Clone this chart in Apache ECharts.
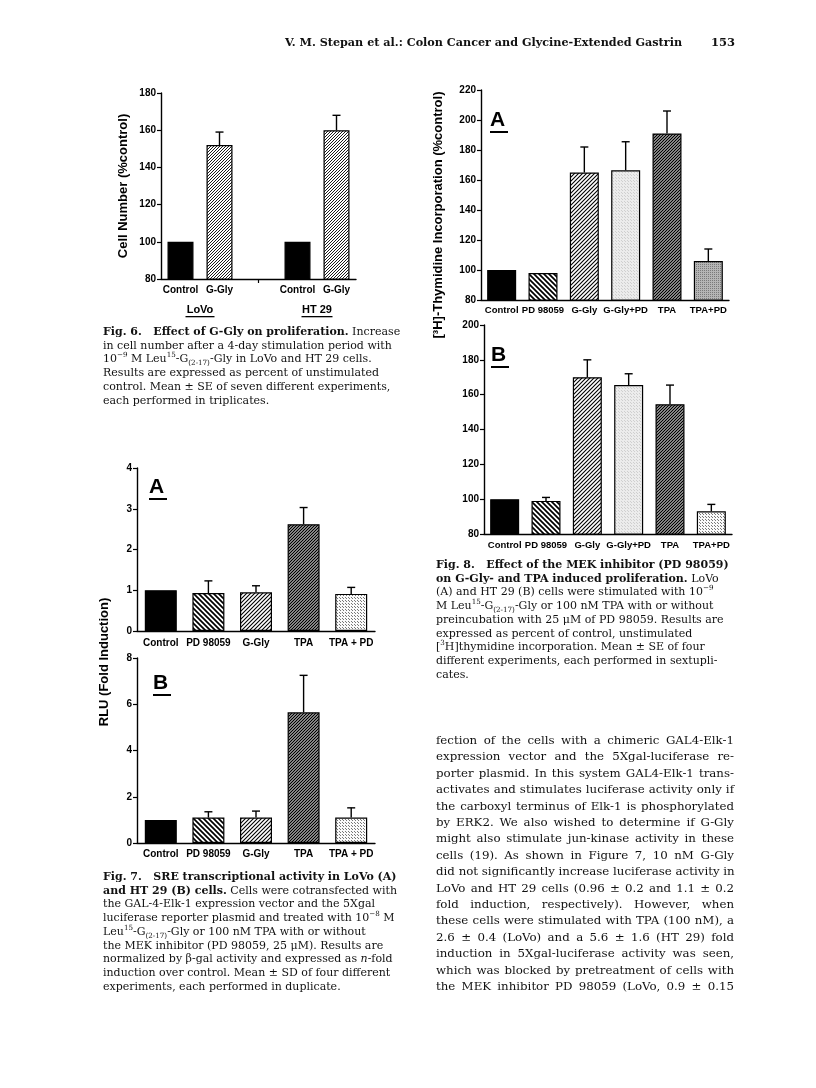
<!DOCTYPE html>
<html>
<head>
<meta charset="utf-8">
<script src="https://cdn.jsdelivr.net/npm/echarts@6/dist/echarts.min.js"></script>
<style>
  html, body { margin: 0; padding: 0; background: #fff; }
  #page { position: relative; width: 816px; height: 1088px; overflow: hidden; background: #fff; }
  #chart { position: absolute; left: 0; top: 0; width: 816px; height: 1088px; }
  .txt { position: absolute; font-family: "DejaVu Serif", serif; color: #111; white-space: nowrap; }
  .cap { font-size: 11px; line-height: 13.7px; }
  .cap b { font-weight: bold; }
  .body { font-size: 11.8px; line-height: 16.4px; width: 298px; }
  .body div { text-align: justify; text-align-last: justify; white-space: nowrap; width: 298px; }
  sup, sub { font-size: 0.65em; line-height: 0; }
</style>
</head>
<body>
<div id="page">
  <div id="chart"></div>

  <div class="txt" style="left:285px; top:35px; font-size:11.2px; font-weight:bold;">V. M. Stepan et al.: Colon Cancer and Glycine-Extended Gastrin</div>
  <div class="txt" style="left:711px; top:35px; font-size:11.5px; font-weight:bold;">153</div>

  <div class="txt cap" style="left:103px; top:325px;">
    <div><b>Fig. 6.&nbsp;&nbsp; Effect of G-Gly on proliferation.</b> Increase</div>
    <div>in cell number after a 4-day stimulation period with</div>
    <div>10<sup>−9</sup> M Leu<sup>15</sup>-G<sub>(2-17)</sub>-Gly in LoVo and HT 29 cells.</div>
    <div>Results are expressed as percent of unstimulated</div>
    <div>control. Mean ± SE of seven different experiments,</div>
    <div>each performed in triplicates.</div>
  </div>

  <div class="txt cap" style="left:103px; top:870px;">
    <div><b>Fig. 7.&nbsp;&nbsp; SRE transcriptional activity in LoVo (A)</b></div>
    <div><b>and HT 29 (B) cells.</b> Cells were cotransfected with</div>
    <div>the GAL-4-Elk-1 expression vector and the 5Xgal</div>
    <div>luciferase reporter plasmid and treated with 10<sup>−8</sup> M</div>
    <div>Leu<sup>15</sup>-G<sub>(2-17)</sub>-Gly or 100 nM TPA with or without</div>
    <div>the MEK inhibitor (PD 98059, 25 μM). Results are</div>
    <div>normalized by β-gal activity and expressed as <i>n</i>-fold</div>
    <div>induction over control. Mean ± SD of four different</div>
    <div>experiments, each performed in duplicate.</div>
  </div>

  <div class="txt cap" style="left:436px; top:558px;">
    <div><b>Fig. 8.&nbsp;&nbsp; Effect of the MEK inhibitor (PD 98059)</b></div>
    <div><b>on G-Gly- and TPA induced proliferation.</b> LoVo</div>
    <div>(A) and HT 29 (B) cells were stimulated with 10<sup>−9</sup></div>
    <div>M Leu<sup>15</sup>-G<sub>(2-17)</sub>-Gly or 100 nM TPA with or without</div>
    <div>preincubation with 25 μM of PD 98059. Results are</div>
    <div>expressed as percent of control, unstimulated</div>
    <div>[<sup>3</sup>H]thymidine incorporation. Mean ± SE of four</div>
    <div>different experiments, each performed in sextupli-</div>
    <div>cates.</div>
  </div>

  <div class="txt body" style="left:436px; top:732px;">
    <div>fection of the cells with a chimeric GAL4-Elk-1</div>
    <div>expression vector and the 5Xgal-luciferase re-</div>
    <div>porter plasmid. In this system GAL4-Elk-1 trans-</div>
    <div>activates and stimulates luciferase activity only if</div>
    <div>the carboxyl terminus of Elk-1 is phosphorylated</div>
    <div>by ERK2. We also wished to determine if G-Gly</div>
    <div>might also stimulate jun-kinase activity in these</div>
    <div>cells (19). As shown in Figure 7, 10 nM G-Gly</div>
    <div>did not significantly increase luciferase activity in</div>
    <div>LoVo and HT 29 cells (0.96 ± 0.2 and 1.1 ± 0.2</div>
    <div>fold induction, respectively). However, when</div>
    <div>these cells were stimulated with TPA (100 nM), a</div>
    <div>2.6 ± 0.4 (LoVo) and a 5.6 ± 1.6 (HT 29) fold</div>
    <div>induction in 5Xgal-luciferase activity was seen,</div>
    <div>which was blocked by pretreatment of cells with</div>
    <div>the MEK inhibitor PD 98059 (LoVo, 0.9 ± 0.15</div>
  </div>
</div>

<script>
// ---------------- data ----------------
const fig6Categories = ['Control', 'G-Gly', '', 'Control', 'G-Gly'];
const fig6Values = [100, 152, null, 100, 160];
const fig6Errors = [0, 7, null, 0, 8];
const fig6Groups = ['LoVo', 'HT 29'];
const fig6Ticks = [80, 100, 120, 140, 160, 180];

const fig7Categories = ['Control', 'PD 98059', 'G-Gly', 'TPA', 'TPA + PD'];
const fig7AValues = [1.0, 0.93, 0.95, 2.62, 0.91];
const fig7AErrors = [0, 0.30, 0.16, 0.41, 0.16];
const fig7BValues = [1.0, 1.1, 1.1, 5.65, 1.1];
const fig7BErrors = [0, 0.25, 0.28, 1.6, 0.42];
const fig7ATicks = [0, 1, 2, 3, 4];
const fig7BTicks = [0, 2, 4, 6, 8];

const fig8Categories = ['Control', 'PD 98059', 'G-Gly', 'G-Gly+PD', 'TPA', 'TPA+PD'];
const fig8AValues = [100, 98, 165, 166.5, 191, 106];
const fig8AErrors = [0, 0, 17, 19, 15, 8];
const fig8BValues = [100, 99, 170, 165.5, 154.5, 93];
const fig8BErrors = [0, 2, 10, 6.5, 11, 4];
const fig8ATicks = [80, 100, 120, 140, 160, 180, 200, 220];
const fig8BTicks = [80, 100, 120, 140, 160, 180, 200];

// ---------------- patterns ----------------
function hatch(s, lw, dir, fg, bg) {
  const c = document.createElement('canvas');
  c.width = s; c.height = s;
  const g = c.getContext('2d');
  g.fillStyle = bg || '#fff'; g.fillRect(0, 0, s, s);
  g.strokeStyle = fg || '#000'; g.lineWidth = lw; g.beginPath();
  if (dir === '/') {
    g.moveTo(0, s); g.lineTo(s, 0);
    g.moveTo(-1, 1); g.lineTo(1, -1);
    g.moveTo(s - 1, s + 1); g.lineTo(s + 1, s - 1);
  } else {
    g.moveTo(0, 0); g.lineTo(s, s);
    g.moveTo(-1, s - 1); g.lineTo(1, s + 1);
    g.moveTo(s - 1, -1); g.lineTo(s + 1, 1);
  }
  g.stroke();
  return { image: c, repeat: 'repeat' };
}
function dots(s, fg, bg) {
  const c = document.createElement('canvas');
  c.width = s; c.height = s;
  const g = c.getContext('2d');
  g.fillStyle = bg; g.fillRect(0, 0, s, s);
  g.fillStyle = fg; g.fillRect(0, 0, 1, 1);
  if (s >= 3) g.fillRect(Math.floor(s / 2), Math.floor(s / 2), 1, 1);
  return { image: c, repeat: 'repeat' };
}
const P = {
  control: '#000',
  pd: hatch(5, 1.7, '\\'),
  ggly: hatch(4, 1.1, '/'),
  ggly6: hatch(3, 0.9, '/'),
  tpa: hatch(3, 1.4, '/'),
  tpapd: dots(3, '#777', '#fafafa'),
  gglypd: dots(3, '#cfcfcf', '#ececec'),
  tpapd8a: dots(2, '#7a7a7a', '#b5b5b5')
};
const fig6Fills = [P.control, P.ggly6, P.control, P.control, P.ggly6];
const fig7Fills = [P.control, P.pd, P.ggly, P.tpa, P.tpapd];
const fig8AFills = [P.control, P.pd, P.ggly, P.gglypd, P.tpa, P.tpapd8a];
const fig8BFills = [P.control, P.pd, P.ggly, P.gglypd, P.tpa, P.tpapd];

// ---------------- helpers ----------------
const SANS = '"Liberation Sans", Arial, sans-serif';
function barData(values, fills) {
  return values.map((v, i) => v == null ? null : ({
    value: v,
    itemStyle: { color: fills[i], borderColor: '#000', borderWidth: 1.2 }
  }));
}
function errData(values, errs) {
  const out = [];
  values.forEach((v, i) => { if (v != null && errs[i] > 0) out.push([i, v, v + errs[i]]); });
  return out;
}
function errSeries(idx, values, errs) {
  return {
    type: 'custom', xAxisIndex: idx, yAxisIndex: idx, z: 5,
    data: errData(values, errs),
    renderItem: function (params, api) {
      const top = api.coord([api.value(0), api.value(1)]);
      const cap = api.coord([api.value(0), api.value(2)]);
      const w = 4;
      return {
        type: 'group',
        children: [
          { type: 'line', shape: { x1: top[0], y1: top[1], x2: cap[0], y2: cap[1] }, style: { stroke: '#000', lineWidth: 1.4 } },
          { type: 'line', shape: { x1: cap[0] - w, y1: cap[1], x2: cap[0] + w, y2: cap[1] }, style: { stroke: '#000', lineWidth: 1.4 } }
        ]
      };
    }
  };
}
function xAx(idx, cats, fs, margin, tickIdx) {
  return {
    type: 'category', gridIndex: idx, data: cats,
    axisLine: { lineStyle: { color: '#000', width: 1.4 } },
    axisTick: tickIdx == null ? { show: false } : {
      show: true, alignWithLabel: true, length: 4, lineStyle: { color: '#000', width: 1.2 },
      interval: function (i) { return i === tickIdx; }
    },
    axisLabel: { interval: 0, color: '#000', fontFamily: SANS, fontWeight: 'bold', fontSize: fs, margin: margin }
  };
}
function yAx(idx, ticks, name, nameGap) {
  return {
    type: 'value', gridIndex: idx,
    min: ticks[0], max: ticks[ticks.length - 1], interval: ticks[1] - ticks[0],
    name: name || '', nameLocation: 'middle', nameGap: nameGap || 30,
    nameTextStyle: { color: '#000', fontFamily: SANS, fontWeight: 'bold', fontSize: 13 },
    splitLine: { show: false },
    axisLine: { show: true, lineStyle: { color: '#000', width: 1.4 } },
    axisTick: { show: true, length: 4, lineStyle: { color: '#000', width: 1.2 } },
    axisLabel: { color: '#000', fontFamily: SANS, fontWeight: 'bold', fontSize: 10, margin: 5 }
  };
}
function panelLabel(text, x, y) {
  return {
    type: 'group', left: x, top: y,
    children: [
      { type: 'text', x: 0, y: 0, style: { text: text, font: 'bold 21px ' + SANS, fill: '#000' } },
      { type: 'rect', shape: { x: 0, y: 21, width: 18, height: 2 }, style: { fill: '#000' } }
    ]
  };
}
function groupLabel(text, cx, y, w) {
  return {
    type: 'group', left: cx - w / 2, top: y,
    children: [
      { type: 'text', x: w / 2, y: 0, style: { text: text, font: 'bold 11px ' + SANS, fill: '#000', align: 'center' } },
      { type: 'rect', shape: { x: 0, y: 12, width: w, height: 1.3 }, style: { fill: '#000' } }
    ]
  };
}

// ---------------- chart ----------------
const chart = echarts.init(document.getElementById('chart'), null, { renderer: 'canvas' });
const option = {
  animation: false,
  backgroundColor: 'transparent',
  grid: [
    { left: 161, top: 93, width: 195, height: 186 },
    { left: 137, top: 468, width: 238, height: 163 },
    { left: 137, top: 658, width: 238, height: 185 },
    { left: 481, top: 90, width: 248, height: 210 },
    { left: 484, top: 325, width: 248, height: 209 }
  ],
  xAxis: [
    xAx(0, fig6Categories, 10, 6, 2),
    xAx(1, fig7Categories, 10, 7),
    xAx(2, fig7Categories, 10, 6),
    xAx(3, fig8Categories, 9.5, 5),
    xAx(4, fig8Categories, 9.5, 6)
  ],
  yAxis: [
    yAx(0, fig6Ticks, 'Cell Number (%control)', 31),
    yAx(1, fig7ATicks),
    yAx(2, fig7BTicks),
    yAx(3, fig8ATicks),
    yAx(4, fig8BTicks)
  ],
  series: [
    { type: 'bar', xAxisIndex: 0, yAxisIndex: 0, barWidth: 26, data: barData(fig6Values, fig6Fills) },
    errSeries(0, fig6Values, fig6Errors),
    { type: 'bar', xAxisIndex: 1, yAxisIndex: 1, barWidth: 32, data: barData(fig7AValues, fig7Fills) },
    errSeries(1, fig7AValues, fig7AErrors),
    { type: 'bar', xAxisIndex: 2, yAxisIndex: 2, barWidth: 32, data: barData(fig7BValues, fig7Fills) },
    errSeries(2, fig7BValues, fig7BErrors),
    { type: 'bar', xAxisIndex: 3, yAxisIndex: 3, barWidth: 29, data: barData(fig8AValues, fig8AFills) },
    errSeries(3, fig8AValues, fig8AErrors),
    { type: 'bar', xAxisIndex: 4, yAxisIndex: 4, barWidth: 29, data: barData(fig8BValues, fig8BFills) },
    errSeries(4, fig8BValues, fig8BErrors)
  ],
  graphic: [
    groupLabel(fig6Groups[0], 200, 304, 29),
    groupLabel(fig6Groups[1], 317, 304, 31),
    panelLabel('A', 149, 477),
    panelLabel('B', 153, 673),
    panelLabel('A', 490, 110),
    panelLabel('B', 491, 345),
    {
      type: 'text', x: 104, y: 662, rotation: Math.PI / 2,
      style: { text: 'RLU (Fold Induction)', font: 'bold 13px ' + SANS, fill: '#000', align: 'center', verticalAlign: 'middle' }
    },
    {
      type: 'text', x: 438, y: 215, rotation: Math.PI / 2,
      style: { text: '[³H]-Thymidine Incorporation (%control)', font: 'bold 13px ' + SANS, fill: '#000', align: 'center', verticalAlign: 'middle' }
    }
  ]
};
chart.setOption(option);
</script>
</body>
</html>
